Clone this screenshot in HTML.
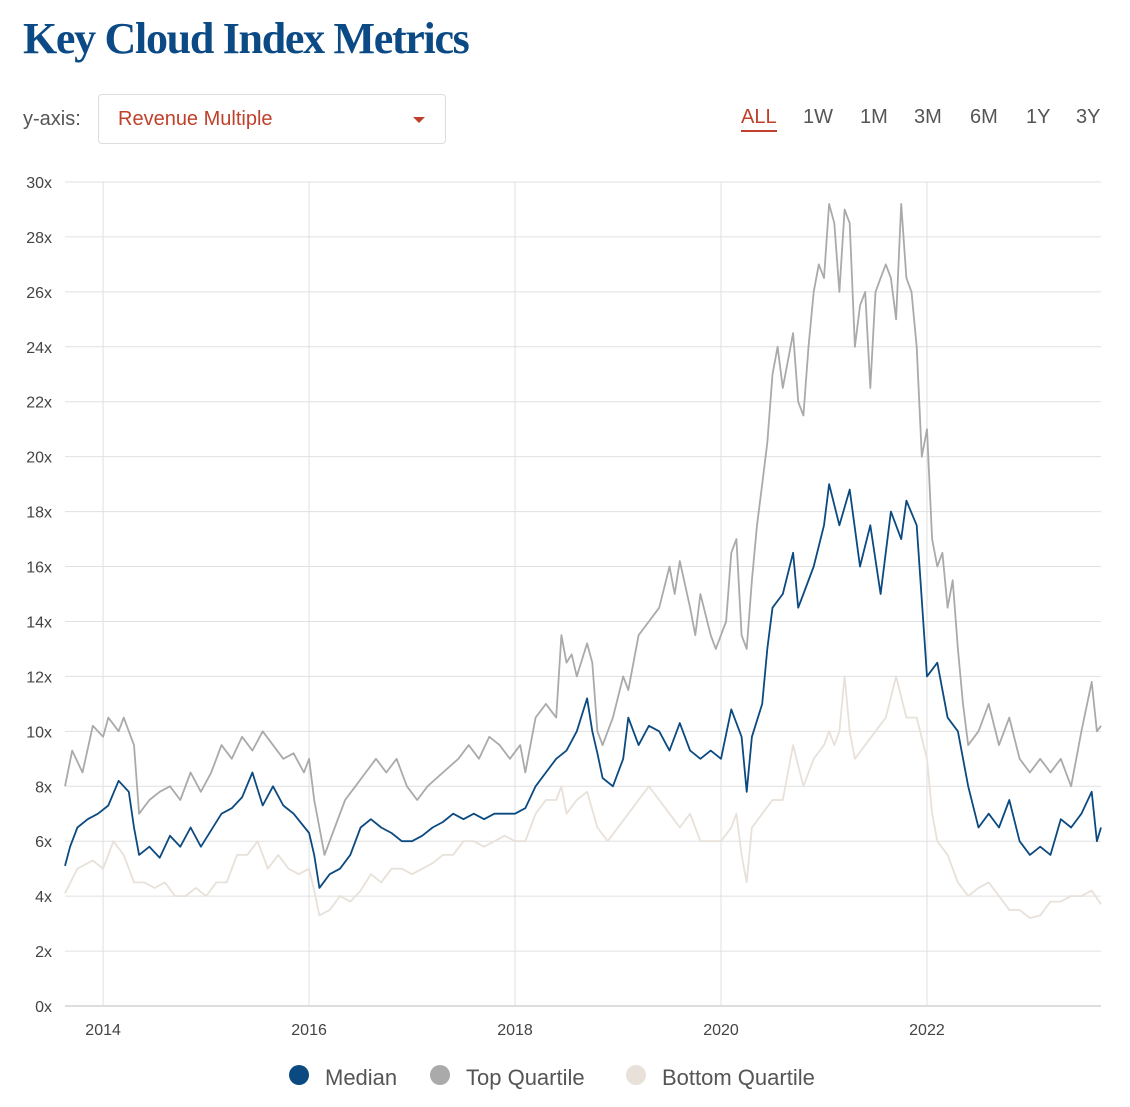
<!DOCTYPE html>
<html><head><meta charset="utf-8"><style>
body{margin:0;background:#fff;width:1130px;height:1107px;overflow:hidden;font-family:"Liberation Sans",sans-serif;position:relative}
.title{position:absolute;left:23px;top:13px;font-family:"Liberation Serif",serif;font-weight:bold;font-size:44px;color:#0b4a85;letter-spacing:-1.3px}
.ylab{position:absolute;left:23px;top:108px;font-size:20px;color:#555}
.dd{position:absolute;left:98px;top:94px;width:348px;height:50px;border:1px solid #ddd;border-radius:4px;box-sizing:border-box}
.dd span{position:absolute;left:19px;top:13px;font-size:20px;color:#c0412b}
.dd i{position:absolute;right:20px;top:22px;border-left:6px solid transparent;border-right:6px solid transparent;border-top:6px solid #c0412b}
.rng{position:absolute;top:106px;font-size:20px;color:#555}
.leg{position:absolute;top:1065px;font-size:22px;color:#555;font-weight:500}
.dot{position:absolute;top:1065px;width:20px;height:20px;border-radius:50%}
</style></head><body>
<div class="title">Key Cloud Index Metrics</div>
<div class="ylab">y-axis:</div>
<div class="dd"><span>Revenue Multiple</span><i></i></div>
<div class="rng" style="left:741px;color:#c0412b;border-bottom:2px solid #c0412b;padding-bottom:1px">ALL</div>
<div class="rng" style="left:803px">1W</div>
<div class="rng" style="left:860px">1M</div>
<div class="rng" style="left:914px">3M</div>
<div class="rng" style="left:970px">6M</div>
<div class="rng" style="left:1026px">1Y</div>
<div class="rng" style="left:1076px">3Y</div>
<svg id="c" width="1130" height="1107" style="position:absolute;left:0;top:0"></svg>
<div class="dot" style="left:289px;background:#0b4a80"></div>
<div class="leg" style="left:325px">Median</div>
<div class="dot" style="left:430px;background:#aaa"></div>
<div class="leg" style="left:466px">Top Quartile</div>
<div class="dot" style="left:626px;background:#e8e1da"></div>
<div class="leg" style="left:662px">Bottom Quartile</div>
<script>
const yTicks=[0,2,4,6,8,10,12,14,16,18,20,22,24,26,28,30];
const xTicks=[2014,2016,2018,2020,2022];
const medT=[2013.63,2013.68,2013.75,2013.85,2013.95,2014.05,2014.15,2014.25,2014.3,2014.35,2014.45,2014.55,2014.65,2014.75,2014.85,2014.95,2015.05,2015.15,2015.25,2015.35,2015.45,2015.55,2015.65,2015.75,2015.85,2016.0,2016.05,2016.1,2016.2,2016.3,2016.4,2016.5,2016.6,2016.7,2016.8,2016.9,2017.0,2017.1,2017.2,2017.3,2017.4,2017.5,2017.6,2017.7,2017.8,2017.9,2018.0,2018.1,2018.2,2018.3,2018.4,2018.5,2018.6,2018.7,2018.75,2018.8,2018.85,2018.95,2019.05,2019.1,2019.2,2019.3,2019.4,2019.5,2019.6,2019.7,2019.8,2019.9,2020.0,2020.1,2020.2,2020.25,2020.3,2020.4,2020.45,2020.5,2020.6,2020.7,2020.75,2020.8,2020.9,2021.0,2021.05,2021.15,2021.25,2021.35,2021.45,2021.55,2021.65,2021.75,2021.8,2021.9,2022.0,2022.1,2022.2,2022.3,2022.4,2022.5,2022.6,2022.7,2022.8,2022.9,2023.0,2023.1,2023.2,2023.3,2023.4,2023.5,2023.6,2023.65,2023.69];
const medV=[5.1,5.8,6.5,6.8,7.0,7.3,8.2,7.8,6.5,5.5,5.8,5.4,6.2,5.8,6.5,5.8,6.4,7.0,7.2,7.6,8.5,7.3,8.0,7.3,7.0,6.3,5.5,4.3,4.8,5.0,5.5,6.5,6.8,6.5,6.3,6.0,6.0,6.2,6.5,6.7,7.0,6.8,7.0,6.8,7.0,7.0,7.0,7.2,8.0,8.5,9.0,9.3,10.0,11.2,10.0,9.2,8.3,8.0,9.0,10.5,9.5,10.2,10.0,9.3,10.3,9.3,9.0,9.3,9.0,10.8,9.8,7.8,9.8,11.0,13.0,14.5,15.0,16.5,14.5,15.0,16.0,17.5,19.0,17.5,18.8,16.0,17.5,15.0,18.0,17.0,18.4,17.5,12.0,12.5,10.5,10.0,8.0,6.5,7.0,6.5,7.5,6.0,5.5,5.8,5.5,6.8,6.5,7.0,7.8,6.0,6.5];
const topT=[2013.63,2013.7,2013.8,2013.9,2014.0,2014.05,2014.15,2014.2,2014.3,2014.35,2014.45,2014.55,2014.65,2014.75,2014.85,2014.95,2015.05,2015.15,2015.25,2015.35,2015.45,2015.55,2015.65,2015.75,2015.85,2015.95,2016.0,2016.05,2016.1,2016.15,2016.25,2016.35,2016.45,2016.55,2016.65,2016.75,2016.85,2016.95,2017.05,2017.15,2017.3,2017.45,2017.55,2017.65,2017.75,2017.85,2017.95,2018.05,2018.1,2018.2,2018.3,2018.4,2018.45,2018.5,2018.55,2018.6,2018.7,2018.75,2018.8,2018.85,2018.95,2019.05,2019.1,2019.2,2019.3,2019.4,2019.5,2019.55,2019.6,2019.7,2019.75,2019.8,2019.9,2019.95,2020.05,2020.1,2020.15,2020.2,2020.25,2020.3,2020.35,2020.4,2020.45,2020.5,2020.55,2020.6,2020.7,2020.75,2020.8,2020.85,2020.9,2020.95,2021.0,2021.05,2021.1,2021.15,2021.2,2021.25,2021.3,2021.35,2021.4,2021.45,2021.5,2021.55,2021.6,2021.65,2021.7,2021.75,2021.8,2021.85,2021.9,2021.95,2022.0,2022.05,2022.1,2022.15,2022.2,2022.25,2022.3,2022.35,2022.4,2022.5,2022.6,2022.7,2022.8,2022.9,2023.0,2023.1,2023.2,2023.3,2023.4,2023.5,2023.6,2023.65,2023.69];
const topV=[8.0,9.3,8.5,10.2,9.8,10.5,10.0,10.5,9.5,7.0,7.5,7.8,8.0,7.5,8.5,7.8,8.5,9.5,9.0,9.8,9.3,10.0,9.5,9.0,9.2,8.5,9.0,7.5,6.5,5.5,6.5,7.5,8.0,8.5,9.0,8.5,9.0,8.0,7.5,8.0,8.5,9.0,9.5,9.0,9.8,9.5,9.0,9.5,8.5,10.5,11.0,10.5,13.5,12.5,12.8,12.0,13.2,12.5,10.0,9.5,10.5,12.0,11.5,13.5,14.0,14.5,16.0,15.0,16.2,14.5,13.5,15.0,13.5,13.0,14.0,16.5,17.0,13.5,13.0,15.5,17.5,19.0,20.5,23.0,24.0,22.5,24.5,22.0,21.5,24.0,26.0,27.0,26.5,29.2,28.5,26.0,29.0,28.5,24.0,25.5,26.0,22.5,26.0,26.5,27.0,26.5,25.0,29.2,26.5,26.0,24.0,20.0,21.0,17.0,16.0,16.5,14.5,15.5,13.0,11.0,9.5,10.0,11.0,9.5,10.5,9.0,8.5,9.0,8.5,9.0,8.0,10.0,11.8,10.0,10.2];
const botT=[2013.63,2013.75,2013.9,2014.0,2014.1,2014.2,2014.3,2014.4,2014.5,2014.6,2014.7,2014.8,2014.9,2015.0,2015.1,2015.2,2015.3,2015.4,2015.5,2015.6,2015.7,2015.8,2015.9,2016.0,2016.05,2016.1,2016.2,2016.3,2016.4,2016.5,2016.6,2016.7,2016.8,2016.9,2017.0,2017.1,2017.2,2017.3,2017.4,2017.5,2017.6,2017.7,2017.8,2017.9,2018.0,2018.1,2018.2,2018.3,2018.4,2018.45,2018.5,2018.6,2018.7,2018.8,2018.9,2019.0,2019.1,2019.2,2019.3,2019.4,2019.5,2019.6,2019.7,2019.8,2019.9,2020.0,2020.1,2020.15,2020.2,2020.25,2020.3,2020.4,2020.5,2020.6,2020.7,2020.8,2020.9,2021.0,2021.05,2021.1,2021.15,2021.2,2021.25,2021.3,2021.4,2021.5,2021.6,2021.7,2021.8,2021.9,2022.0,2022.05,2022.1,2022.2,2022.3,2022.4,2022.5,2022.6,2022.7,2022.8,2022.9,2023.0,2023.1,2023.2,2023.3,2023.4,2023.5,2023.6,2023.69];
const botV=[4.1,5.0,5.3,5.0,6.0,5.5,4.5,4.5,4.3,4.5,4.0,4.0,4.3,4.0,4.5,4.5,5.5,5.5,6.0,5.0,5.5,5.0,4.8,5.0,4.2,3.3,3.5,4.0,3.8,4.2,4.8,4.5,5.0,5.0,4.8,5.0,5.2,5.5,5.5,6.0,6.0,5.8,6.0,6.2,6.0,6.0,7.0,7.5,7.5,8.0,7.0,7.5,7.8,6.5,6.0,6.5,7.0,7.5,8.0,7.5,7.0,6.5,7.0,6.0,6.0,6.0,6.5,7.0,5.5,4.5,6.5,7.0,7.5,7.5,9.5,8.0,9.0,9.5,10.0,9.5,10.0,12.0,10.0,9.0,9.5,10.0,10.5,12.0,10.5,10.5,9.0,7.0,6.0,5.5,4.5,4.0,4.3,4.5,4.0,3.5,3.5,3.2,3.3,3.8,3.8,4.0,4.0,4.2,3.7];
const svg=document.getElementById('c'),NS='http://www.w3.org/2000/svg';
const L=65,R=1101,T=182,B=1006,X0=2013.63,X1=2023.69;
const xs=v=>L+(v-X0)/(X1-X0)*(R-L), ys=v=>B-v/30*(B-T);
function mk(t,a){const e=document.createElementNS(NS,t);for(const k in a)e.setAttribute(k,a[k]);svg.appendChild(e);return e;}
yTicks.forEach(v=>{const l=mk('line',{x1:L,x2:R,y1:ys(v),y2:ys(v),stroke:v==0?'#bbb':'#e0e0e0','stroke-width':1});


const t=mk('text',{x:52,y:ys(v)+6,'text-anchor':'end','font-size':16,fill:'#444','font-family':'Liberation Sans, sans-serif'});t.textContent=v+'x';

});
xTicks.forEach(v=>{const l=mk('line',{x1:xs(v),x2:xs(v),y1:T,y2:B,stroke:'#e0e0e0','stroke-width':1});


const t=mk('text',{x:xs(v),y:1035,'text-anchor':'middle','font-size':16,fill:'#444','font-family':'Liberation Sans, sans-serif'});t.textContent=v;

});
function line(T_,V,c,n){const p=mk('path',{d:T_.map((t,i)=>(i?'L':'M')+xs(t).toFixed(1)+','+ys(V[i]).toFixed(1)).join(''),fill:'none',stroke:c,'stroke-width':1.8,'stroke-linejoin':'round'});

}
line(botT,botV,'#e8e1da','bottom-quartile-line');
line(topT,topV,'#aaaaaa','top-quartile-line');
line(medT,medV,'#0b4a80','median-line');
</script>
</body></html>
